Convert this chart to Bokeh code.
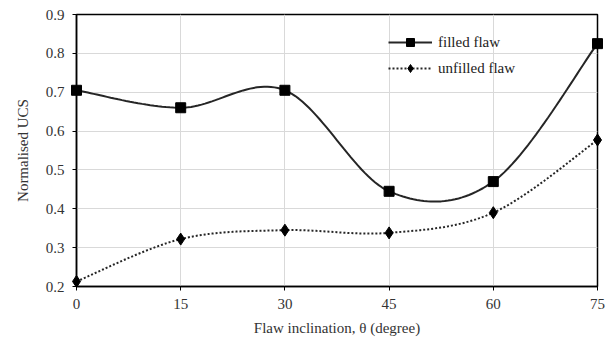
from bokeh.plotting import figure
from bokeh.models import Range1d, FixedTicker, Legend, LegendItem
from bokeh.embed import file_html
from bokeh.resources import INLINE

# ---- data ----
inclination = [0, 15, 30, 45, 60, 75]
filled_flaw = [0.705, 0.660, 0.705, 0.445, 0.470, 0.825]
unfilled_flaw = [0.213, 0.322, 0.345, 0.338, 0.390, 0.577]
x_ticks = [0, 15, 30, 45, 60, 75]
y_ticks = [0.2, 0.3, 0.4, 0.5, 0.6, 0.7, 0.8, 0.9]

FONT = "Liberation Serif"
INK = "#262626"


def smooth(xs, ys, n=30):
    """Catmull-Rom style Bezier smoothing (like a spreadsheet's smoothed line)."""
    px, py = [], []
    m = len(xs)
    for i in range(m - 1):
        x0, y0 = (xs[i - 1], ys[i - 1]) if i > 0 else (xs[i], ys[i])
        x1, y1 = xs[i], ys[i]
        x2, y2 = xs[i + 1], ys[i + 1]
        x3, y3 = (xs[i + 2], ys[i + 2]) if i + 2 < m else (xs[i + 1], ys[i + 1])
        c1x, c1y = x1 + (x2 - x0) / 6, y1 + (y2 - y0) / 6
        c2x, c2y = x2 - (x3 - x1) / 6, y2 - (y3 - y1) / 6
        for k in range(n + (1 if i == m - 2 else 0)):
            t = k / n
            a, b, c, d = (1 - t) ** 3, 3 * (1 - t) ** 2 * t, 3 * (1 - t) * t ** 2, t ** 3
            px.append(a * x1 + b * c1x + c * c2x + d * x2)
            py.append(a * y1 + b * c1y + c * c2y + d * y2)
    return px, py


p = figure(width=612, height=340, output_backend="svg", toolbar_location=None,
           x_range=Range1d(0, 75), y_range=Range1d(0.2, 0.9),
           min_border_left=76, min_border_right=15, min_border_top=14, min_border_bottom=54)
p.background_fill_color = "white"
p.border_fill_color = "white"
p.outline_line_color = "black"
p.outline_line_width = 1.5

for ax in (p.xaxis[0], p.yaxis[0]):
    ax.axis_line_color = "black"
    ax.axis_line_width = 1.5
    ax.major_tick_line_color = "black"
    ax.major_tick_in = 0
    ax.major_tick_out = 4
    ax.minor_tick_line_color = None
    ax.major_label_text_font = FONT
    ax.major_label_text_font_size = "15px"
    ax.major_label_text_color = "#333333"
    ax.axis_label_text_font = FONT
    ax.axis_label_text_font_size = "15px"
    ax.axis_label_text_font_style = "normal"
    ax.axis_label_text_color = "#333333"

p.xaxis.ticker = FixedTicker(ticks=x_ticks)
p.yaxis.ticker = FixedTicker(ticks=y_ticks)
p.yaxis.formatter.use_scientific = False
p.xaxis.axis_label = "Flaw inclination, θ (degree)"
p.yaxis.axis_label = "Normalised UCS"
p.xaxis.major_label_standoff = 8
p.yaxis.major_label_standoff = 8
p.xaxis.axis_label_standoff = 8
p.yaxis.axis_label_standoff = 12

p.xgrid.ticker = FixedTicker(ticks=x_ticks)
p.ygrid.ticker = FixedTicker(ticks=y_ticks)
p.grid.grid_line_color = "#d9d9d9"
p.grid.grid_line_width = 1

fx, fy = smooth(inclination, filled_flaw)
ux, uy = smooth(inclination, unfilled_flaw)

l1 = p.line(fx, fy, line_color=INK, line_width=2)
l2 = p.line(ux, uy, line_color=INK, line_width=2, line_dash="2 2")
s1 = p.scatter(inclination, filled_flaw, marker="square", size=10,
               fill_color="black", line_color="black", level="overlay")
s2 = p.scatter(inclination, unfilled_flaw, marker="diamond", size=12,
               fill_color="black", line_color="black", level="overlay")

legend = Legend(items=[LegendItem(label="filled flaw", renderers=[l1, s1]),
                       LegendItem(label="unfilled flaw", renderers=[l2, s2])],
                location=(312, 208))
legend.background_fill_alpha = 0
legend.border_line_color = None
legend.label_text_font = FONT
legend.label_text_font_size = "15px"
legend.label_text_color = "#222222"
legend.glyph_width = 44
legend.glyph_height = 20
legend.spacing = 6
legend.padding = 0
legend.margin = 0
legend.label_standoff = 6
p.add_layout(legend, "center")

open("out.html", "w").write(file_html(p, INLINE))
